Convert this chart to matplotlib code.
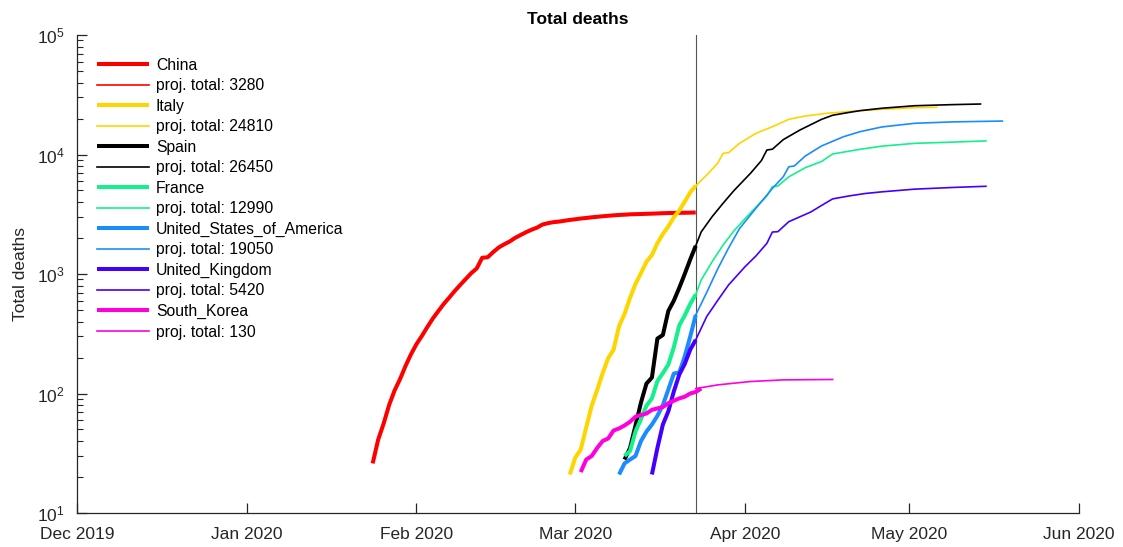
import numpy as np
import pandas as pd
import matplotlib
matplotlib.use('Agg')
import matplotlib.pyplot as plt
import matplotlib.dates as mdates
from matplotlib.ticker import LogLocator, NullFormatter

# Data ---------------------------------------------------

countries = ['China', 'Italy', 'Spain', 'France', 'United_States_of_America',
             'United_Kingdom', 'South_Korea']
colors = ['#FF0000', '#FFD500', '#000000', '#14F08C', '#1A8CFF', '#4400FF', '#FF00DD']
proj_totals = [3280, 24810, 26450, 12990, 19050, 5420, 130]

# first day of recorded deaths (> 20) for each country
start_dates = ['2020-01-24', '2020-02-29', '2020-03-10', '2020-03-10',
               '2020-03-09', '2020-03-15', '2020-03-02']

china = [26, 41, 56, 80, 106, 132, 170, 213, 259, 304, 361, 425, 490, 563, 636,
         722, 811, 908, 1016, 1113, 1367, 1380, 1523, 1665, 1770, 1868, 2004,
         2118, 2236, 2345, 2442, 2592, 2663, 2715, 2744, 2788, 2835, 2870, 2912,
         2943, 2981, 3012, 3042, 3070, 3097, 3119, 3136, 3158, 3169, 3176, 3189,
         3199, 3213, 3226, 3237, 3245, 3248, 3255, 3261, 3270]
italy = [21, 29, 34, 52, 79, 107, 148, 197, 233, 366, 463, 631, 827, 1016, 1266,
         1441, 1809, 2158, 2503, 2978, 3405, 4032, 4825, 5476]
spain = [28, 35, 54, 84, 121, 136, 288, 309, 491, 598, 767, 1002, 1326, 1720]
france = [30, 33, 48, 61, 79, 91, 127, 148, 175, 244, 372, 450, 562, 674]
usa = [21, 26, 28, 30, 40, 48, 55, 65, 80, 108, 147, 150, 205, 300, 454]
uk = [21, 35, 55, 71, 104, 144, 177, 233, 281]
korea = [22, 28, 30, 35, 40, 42, 49, 51, 54, 58, 64, 66, 68, 73, 75, 77, 83,
         87, 91, 94, 100, 103, 110]

# projections (thin lines), read at selected dates
italy_proj_dates = ['2020-03-23', '2020-03-25', '2020-03-27', '2020-03-28', '2020-03-29',
                    '2020-03-31', '2020-04-03', '2020-04-06', '2020-04-09', '2020-04-12',
                    '2020-04-16', '2020-04-22', '2020-04-26', '2020-05-02', '2020-05-06']
italy_proj = [5476, 6730, 8430, 10230, 10350, 12400, 15040, 17090, 19700, 21000,
              22130, 23270, 23900, 24650, 24810]

spain_proj_dates = ['2020-03-23', '2020-03-24', '2020-03-26', '2020-03-28', '2020-03-30',
                    '2020-04-02', '2020-04-04', '2020-04-05', '2020-04-06', '2020-04-08',
                    '2020-04-11', '2020-04-15', '2020-04-17', '2020-04-20', '2020-04-22',
                    '2020-04-26', '2020-05-02', '2020-05-09', '2020-05-14']
spain_proj = [1720, 2250, 3020, 3910, 5000, 6960, 8900, 10910, 11070, 13330, 16000,
              19700, 21300, 22500, 23270, 24380, 25590, 26150, 26450]

usa_proj_dates = ['2020-03-23', '2020-03-25', '2020-03-27', '2020-03-29', '2020-03-31',
                  '2020-04-03', '2020-04-06', '2020-04-08', '2020-04-09', '2020-04-10',
                  '2020-04-12', '2020-04-15', '2020-04-19', '2020-04-22', '2020-04-26',
                  '2020-05-02', '2020-05-09', '2020-05-18']
usa_proj = [454, 700, 1100, 1650, 2400, 3550, 5200, 6520, 7900, 8010, 9700, 11800,
            14090, 15520, 17000, 18250, 18750, 19050]

france_proj_dates = ['2020-03-23', '2020-03-24', '2020-03-26', '2020-03-28', '2020-03-30',
                     '2020-04-02', '2020-04-05', '2020-04-06', '2020-04-07', '2020-04-09',
                     '2020-04-12', '2020-04-15', '2020-04-17', '2020-04-22', '2020-04-26',
                     '2020-05-02', '2020-05-09', '2020-05-15']
france_proj = [674, 891, 1268, 1750, 2300, 3250, 4500, 5380, 5450, 6500, 7750, 8750,
               10100, 11050, 11750, 12400, 12700, 12990]

uk_proj_dates = ['2020-03-23', '2020-03-25', '2020-03-27', '2020-03-29', '2020-04-01',
                 '2020-04-03', '2020-04-05', '2020-04-06', '2020-04-07', '2020-04-09',
                 '2020-04-13', '2020-04-15', '2020-04-17', '2020-04-20', '2020-04-23',
                 '2020-04-26', '2020-05-02', '2020-05-09', '2020-05-15']
uk_proj = [281, 440, 600, 810, 1150, 1416, 1807, 2245, 2260, 2740, 3300, 3750, 4250,
           4500, 4720, 4870, 5130, 5300, 5420]

korea_proj_dates = ['2020-03-23', '2020-03-27', '2020-03-30', '2020-04-02',
                    '2020-04-08', '2020-04-17']
korea_proj = [110, 118, 122, 126, 130, 131]

today = '2020-03-23'

# Plot ---------------------------------------------------

plt.rcParams['font.family'] = ['Liberation Sans', 'DejaVu Sans']
plt.rcParams['mathtext.fontset'] = 'custom'
plt.rcParams['mathtext.rm'] = 'Liberation Sans'
plt.rcParams['mathtext.it'] = 'Liberation Sans:italic'
plt.rcParams['mathtext.bf'] = 'Liberation Sans:bold'
txt = '#262626'

fig = plt.figure(figsize=(11.23, 5.47), dpi=100)
ax = fig.add_axes([77 / 1123, 1 - 513 / 547, 1002 / 1123, 478 / 547])

actual = [china, italy, spain, france, usa, uk, korea]
proj = [None,
        (italy_proj_dates, italy_proj),
        (spain_proj_dates, spain_proj),
        (france_proj_dates, france_proj),
        (usa_proj_dates, usa_proj),
        (uk_proj_dates, uk_proj),
        (korea_proj_dates, korea_proj)]

handles = []
labels = []
for name, c, tot, sd, vals, pr in zip(countries, colors, proj_totals,
                                      start_dates, actual, proj):
    d = pd.date_range(sd, periods=len(vals), freq='D')
    h1, = ax.plot(d, vals, color=c, lw=2.9, solid_capstyle='butt', zorder=3)
    if pr is not None:
        h2, = ax.plot(pd.to_datetime(pr[0]), pr[1], color=c, lw=1.2, zorder=2)
    else:
        h2, = ax.plot([], [], color=c, lw=1.2)
    handles += [h1, h2]
    labels += [name, 'proj. total: %d' % tot]

ax.axvline(pd.Timestamp(today), color='#555555', lw=0.8, zorder=1)

ax.set_yscale('log')
ax.set_ylim(10, 1e5)
ax.set_xlim(pd.Timestamp('2019-12-01'), pd.Timestamp('2020-06-01'))
ax.xaxis.set_major_locator(mdates.MonthLocator())
ax.xaxis.set_major_formatter(mdates.DateFormatter('%b %Y'))
ax.yaxis.set_major_locator(LogLocator(base=10, numticks=10))
ax.yaxis.set_minor_locator(LogLocator(base=10, subs=np.arange(2, 10), numticks=10))
ax.yaxis.set_minor_formatter(NullFormatter())

for s in ['top', 'right']:
    ax.spines[s].set_visible(False)
for s in ['left', 'bottom']:
    ax.spines[s].set_color(txt)
    ax.spines[s].set_linewidth(0.9)
ax.tick_params(axis='both', which='major', direction='in', length=7,
               width=0.9, color=txt, labelcolor=txt, labelsize=12.5)
ax.tick_params(axis='y', which='minor', direction='in', length=4, width=0.8, color=txt)
ax.tick_params(axis='x', pad=10)
ax.tick_params(axis='y', pad=9)

ax.set_ylabel('Total deaths', fontsize=12.5, color=txt, labelpad=6)
ax.set_title('Total deaths', fontsize=12.5, fontweight='bold', color='black', pad=8)

ax.legend(handles, labels, loc='upper left', bbox_to_anchor=(0.02, 0.9525),
          frameon=False, fontsize=11.3, handlelength=3.3, handletextpad=0.45,
          labelspacing=0.35, borderaxespad=0, borderpad=0)

fig.savefig('out.png', dpi=100)
